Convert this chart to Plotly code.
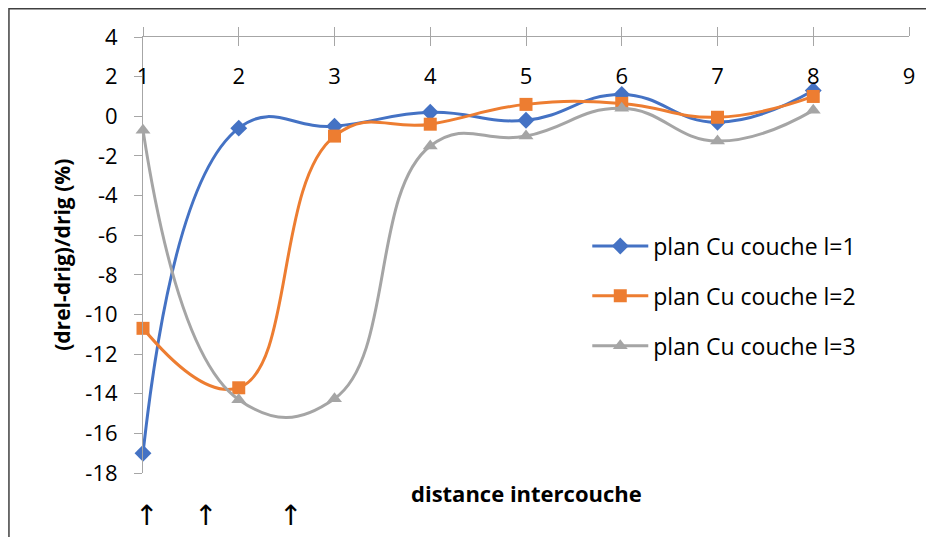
import plotly.graph_objects as go

# distances intercouche
distance = [1, 2, 3, 4, 5, 6, 7, 8]

# (drel-drig)/drig en %
couche1 = [-17.0, -0.6, -0.5, 0.2, -0.2, 1.1, -0.3, 1.3]
couche2 = [-10.7, -13.7, -1.0, -0.4, 0.6, 0.65, -0.05, 1.0]
couche3 = [-0.7, -14.3, -14.25, -1.5, -1.0, 0.4, -1.25, 0.3]

noms = ["plan Cu couche l=1", "plan Cu couche l=2", "plan Cu couche l=3"]
couleurs = ["#4472C4", "#ED7D31", "#A5A5A5"]
symboles = ["diamond", "square", "triangle-up"]

x_ticks = [1, 2, 3, 4, 5, 6, 7, 8, 9]
y_ticks = [4, 2, 0, -2, -4, -6, -8, -10, -12, -14, -16, -18]
y_labels = [str(v) for v in y_ticks]

# positions des fleches sous l'axe
fleches_x = [1.04, 1.65, 2.54]

police = "Open Sans"

fig = go.Figure()
for serie, nom, coul, sym in zip([couche1, couche2, couche3], noms, couleurs, symboles):
    fig.add_trace(go.Scatter(
        x=distance, y=serie, name=nom, legendgroup=nom,
        mode="lines+markers", line_shape="spline",
        line=dict(color=coul, width=3, smoothing=1.3),
        marker=dict(symbol=sym, size=13, color=coul),
        cliponaxis=False,
    ))

# axes fantomes : graduations qui traversent l'axe, et etiquettes sous l'axe
fig.add_trace(go.Scatter(x=[None], y=[None], xaxis="x2", showlegend=False, hoverinfo="skip"))
fig.add_trace(go.Scatter(x=[None], y=[None], xaxis="x3", showlegend=False, hoverinfo="skip"))

# la page ajoute 8px de marge autour du graphique
fig.update_layout(
    width=934, height=537,
    margin=dict(l=135, r=33, t=29, b=72),
    plot_bgcolor="white", paper_bgcolor="white",
    font=dict(family=police, size=20, color="black"),
    showlegend=True,
    legend=dict(x=0.58, y=0.57, xanchor="left", yanchor="top",
                font=dict(size=23), tracegroupgap=17, itemwidth=56,
                bgcolor="rgba(0,0,0,0)"),
    xaxis=dict(range=[1, 9], side="top", tickvals=x_ticks, showticklabels=False,
               showline=True, linecolor="#A6A6A6", linewidth=1,
               ticks="outside", ticklen=9, tickcolor="#A6A6A6",
               showgrid=False, zeroline=False, automargin=False),
    xaxis2=dict(range=[1, 9], overlaying="x", side="top", anchor="y",
                tickvals=x_ticks, showticklabels=False, showline=False,
                ticks="inside", ticklen=9, tickcolor="#A6A6A6",
                showgrid=False, zeroline=False, automargin=False),
    xaxis3=dict(range=[1, 9], overlaying="x", side="bottom", anchor="free",
                position=0.945, tickvals=x_ticks, showline=False, ticks="",
                showgrid=False, zeroline=False, automargin=False,
                tickfont=dict(size=22, family=police)),
    yaxis=dict(range=[-18, 4], tickvals=y_ticks, ticktext=y_labels,
               showline=True, linecolor="#A6A6A6", linewidth=1,
               ticks="outside", ticklen=8, tickcolor="#A6A6A6",
               ticklabelstandoff=12,
               showgrid=False, zeroline=False, automargin=False,
               tickfont=dict(size=22, family=police)),
)

fig.add_annotation(text="<b>(drel-drig)/drig (%)</b>", xref="paper", yref="paper",
                   x=-0.106, y=0.5, xanchor="center", yanchor="middle",
                   textangle=-90, showarrow=False,
                   font=dict(size=21, family=police))

fig.add_annotation(text="<b>distance intercouche</b>", xref="paper", yref="paper",
                   x=0.5, y=-0.085, showarrow=False, font=dict(size=22, family=police))

for fx in fleches_x:
    fig.add_annotation(text="↑", xref="x", yref="paper", x=fx, y=-0.14,
                       showarrow=False, font=dict(size=28, family="DejaVu Sans"))

# cadre du graphique
fig.add_shape(type="rect", xref="paper", yref="paper",
              x0=-0.175, x1=1.06, y0=-0.2, y1=1.065,
              line=dict(color="#404040", width=1.5))

fig.write_html("out.html")
